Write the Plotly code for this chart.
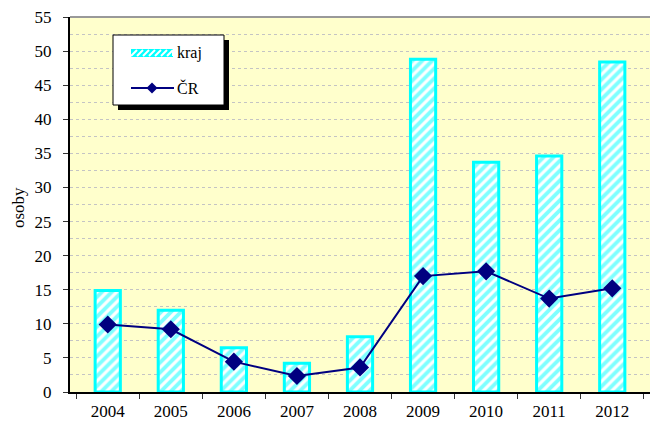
import plotly.graph_objects as go

years = ["2004", "2005", "2006", "2007", "2008", "2009", "2010", "2011", "2012"]
kraj = [14.9, 12.0, 6.5, 4.2, 8.1, 48.8, 33.7, 34.6, 48.4]
cr = [9.9, 9.2, 4.45, 2.35, 3.6, 17.0, 17.7, 13.7, 15.2]

# plot area in pixels: x 70..650, y 17..392
def px(x):
    return (x - 70) / 580

def py(y):
    return (392 - y) / 375

fig = go.Figure()
fig.add_trace(go.Bar(
    x=years, y=kraj, name="kraj", width=0.4, showlegend=False,
    marker=dict(color="white", line=dict(color="#00FFFF", width=3),
                pattern=dict(shape="/", fgcolor="#00FFFF", bgcolor="white", size=7, solidity=0.55)),
))
fig.add_trace(go.Scatter(
    x=years, y=cr, name="ČR", mode="lines+markers", showlegend=False,
    line=dict(color="#000080", width=2),
    marker=dict(symbol="diamond", size=14, color="#000080"),
))

font = dict(family="Liberation Serif", size=17, color="black")

shapes = [
    # legend shadow
    dict(type="rect", xref="paper", yref="paper", x0=px(118), x1=px(229), y0=py(110), y1=py(40),
         fillcolor="black", line=dict(width=0), layer="above"),
    # legend box
    dict(type="rect", xref="paper", yref="paper", x0=px(113), x1=px(224), y0=py(105), y1=py(35),
         fillcolor="white", line=dict(color="black", width=1), layer="above"),
    # kraj icon
    dict(type="rect", xref="paper", yref="paper", x0=px(131), x1=px(173), y0=py(57), y1=py(49),
         fillcolor="#00FFFF", line=dict(width=0), layer="above"),
    # CR line icon
    dict(type="line", xref="paper", yref="paper", x0=px(131), x1=px(174), y0=py(88), y1=py(88),
         line=dict(color="#000080", width=2), layer="above"),
    dict(type="path", xref="paper", yref="paper",
         path=f"M {px(152)} {py(82.5)} L {px(157.5)} {py(88)} L {px(152)} {py(93.5)} L {px(146.5)} {py(88)} Z",
         fillcolor="#000080", line=dict(width=0), layer="above"),
    # top border
    dict(type="line", xref="paper", yref="paper", x0=0, x1=1, y0=1, y1=1,
         line=dict(color="#999999", width=2)),
]
# white stripes on kraj legend icon
for sx in range(131, 175, 6):
    x0, x1 = sx, sx + 6
    shapes.append(dict(type="line", xref="paper", yref="paper",
                       x0=px(max(x0, 131)), x1=px(min(x1, 173)), y0=py(56), y1=py(50),
                       line=dict(color="white", width=2), layer="above"))

fig.update_layout(
    width=650, height=421,
    margin=dict(l=70, r=0, t=17, b=29),
    paper_bgcolor="white", plot_bgcolor="#FFFFCC",
    font=font,
    showlegend=False,
    bargap=0.5,
    xaxis=dict(showline=True, linecolor="black", linewidth=2, ticks="outside",
               tickson="boundaries", ticklen=5, tickcolor="#333333", showgrid=False,
               tickfont=font, automargin=False, ticklabelstandoff=3),
    yaxis=dict(range=[0, 55], dtick=5, showline=True, linecolor="black", linewidth=2,
               ticks="outside", ticklen=5, tickcolor="#333333",
               showgrid=True, gridcolor="#C4C4C4", griddash="dot", gridwidth=1,
               minor=dict(dtick=2.5, showgrid=True, gridcolor="#C4C4C4", griddash="dot", gridwidth=1),
               tickfont=font, zeroline=False, automargin=False, ticklabelstandoff=8),
    shapes=shapes,
    annotations=[
        dict(xref="paper", yref="paper", x=px(175), y=py(53), text="kraj", showarrow=False,
             xanchor="left", yanchor="middle", font=dict(family="Liberation Serif", size=16)),
        dict(xref="paper", yref="paper", x=px(175), y=py(88), text="ČR", showarrow=False,
             xanchor="left", yanchor="middle", font=dict(family="Liberation Serif", size=16)),
        dict(xref="paper", yref="paper", x=px(18), y=py(208), text="osoby", showarrow=False,
             textangle=-90, xanchor="center", yanchor="middle",
             font=dict(family="Liberation Serif", size=17)),
    ],
)
fig.write_html("out.html", config={"displayModeBar": False},
               post_script="document.body.style.margin='0';document.body.style.overflow='hidden';")
